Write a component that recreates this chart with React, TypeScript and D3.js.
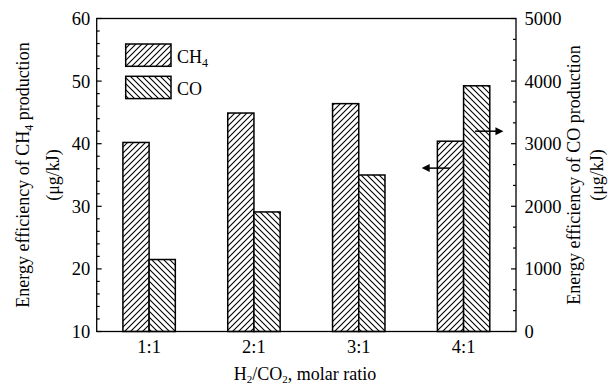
import React from "react";
import * as d3 from "d3";

const categories = ["1:1", "2:1", "3:1", "4:1"];
const ch4Values = [40.2, 44.9, 46.4, 40.4];
const coValues = [1150, 1910, 2500, 3925];
const leftTicks = [10, 20, 30, 40, 50, 60];
const rightTicks = [0, 1000, 2000, 3000, 4000, 5000];
const seriesNames = ["CH4", "CO"];

const W = 616;
const H = 387;
const FONT = "'Liberation Serif', 'Times New Roman', serif";

export default function App() {
  const left = 96.7, right = 516, top = 18.5, bottom = 331.5;
  const x = d3.scaleBand<string>().domain(categories).range([left, right]).padding(0);
  const yL = d3.scaleLinear().domain([10, 60]).range([bottom, top]);
  const yR = d3.scaleLinear().domain([0, 5000]).range([bottom, top]);
  const bw = x.bandwidth() / 4;

  const leftMinor = d3.range(10, 60.001, 2).filter((v) => !leftTicks.includes(v));
  const rightMinor = d3.range(0, 5000.001, 1000 / 3).filter((v) => Math.abs(v / 1000 - Math.round(v / 1000)) > 0.01);

  const last = categories[categories.length - 1];
  const bx = x(last)!;
  const bandW = x.bandwidth();
  const leftArrowY = yL(36.1);
  const rightArrowY = yR(3200);
  const la = { x1: bx + 0.37 * bandW, x2: bx + 0.1 * bandW };
  const ra = { x1: bx + 0.61 * bandW, x2: bx + 0.88 * bandW };

  const fs = 18.5;

  return (
    <svg width={W} height={H} style={{ position: "absolute", left: 0, top: 0, background: "#fff" }} fontFamily={FONT}>
      <defs>
        <pattern id="hCH4" patternUnits="userSpaceOnUse" width={6} height={6}>
          <rect width={6} height={6} fill="#fff" />
          <path d="M0,6 L6,0 M-1.5,1.5 L1.5,-1.5 M4.5,7.5 L7.5,4.5" stroke="#000" strokeWidth={1.1} />
        </pattern>
        <pattern id="hCO" patternUnits="userSpaceOnUse" width={6} height={6}>
          <rect width={6} height={6} fill="#fff" />
          <path d="M0,0 L6,6 M-1.5,4.5 L1.5,7.5 M4.5,-1.5 L7.5,1.5" stroke="#000" strokeWidth={1.1} />
        </pattern>
      </defs>

      {categories.map((c, i) => {
        const cx = x(c)! + x.bandwidth() / 2;
        return (
          <g key={c}>
            <rect x={cx - bw} y={yL(ch4Values[i])} width={bw} height={bottom - yL(ch4Values[i])} fill="url(#hCH4)" stroke="#000" strokeWidth={1.5} />
            <rect x={cx} y={yR(coValues[i])} width={bw} height={bottom - yR(coValues[i])} fill="url(#hCO)" stroke="#000" strokeWidth={1.5} />
          </g>
        );
      })}

      <rect x={left} y={top} width={right - left} height={bottom - top} fill="none" stroke="#000" strokeWidth={1.3} />

      {leftTicks.map((v) => (
        <g key={"l" + v}>
          <line x1={left} x2={left + 5} y1={yL(v)} y2={yL(v)} stroke="#000" strokeWidth={1.2} />
          <text x={left - 6.5} y={yL(v) + 6.5} textAnchor="end" fontSize={fs}>{v}</text>
        </g>
      ))}
      {leftMinor.map((v) => (
        <line key={"lm" + v} x1={left} x2={left + 3} y1={yL(v)} y2={yL(v)} stroke="#000" strokeWidth={1.2} />
      ))}

      {rightTicks.map((v) => (
        <g key={"r" + v}>
          <line x1={right} x2={right - 5} y1={yR(v)} y2={yR(v)} stroke="#000" strokeWidth={1.2} />
          <text x={right + 8.5} y={yR(v) + 6.5} textAnchor="start" fontSize={fs}>{v}</text>
        </g>
      ))}
      {rightMinor.map((v) => (
        <line key={"rm" + v} x1={right} x2={right - 3} y1={yR(v)} y2={yR(v)} stroke="#000" strokeWidth={1.2} />
      ))}

      {categories.map((c) => (
        <text key={"x" + c} x={x(c)! + x.bandwidth() / 2} y={353} textAnchor="middle" fontSize={fs}>{c}</text>
      ))}

      <text x={305} y={380} textAnchor="middle" fontSize={18}>
        H<tspan fontSize={11} dy={3}>2</tspan><tspan dy={-3}>/CO</tspan><tspan fontSize={11} dy={3}>2</tspan><tspan dy={-3}>, molar ratio</tspan>
      </text>

      <g transform={`translate(29, ${(top + bottom) / 2}) rotate(-90)`}>
        <text x={0} y={0} textAnchor="middle" fontSize={18}>
          Energy efficiency of CH<tspan fontSize={12} dy={4}>4</tspan><tspan dy={-4}> production</tspan>
        </text>
      </g>
      <g transform={`translate(59, ${(top + bottom) / 2}) rotate(-90)`}>
        <text x={0} y={0} textAnchor="middle" fontSize={18}>(μg/kJ)</text>
      </g>

      <g transform={`translate(580, ${(top + bottom) / 2}) rotate(-90)`}>
        <text x={0} y={0} textAnchor="middle" fontSize={18}>Energy efficiency of CO production</text>
      </g>
      <g transform={`translate(603, ${(top + bottom) / 2}) rotate(-90)`}>
        <text x={0} y={0} textAnchor="middle" fontSize={18}>(μg/kJ)</text>
      </g>

      {seriesNames.map((s, i) => (
        <g key={s}>
          <rect x={125.7} y={44 + i * 32.3} width={45.3} height={22.3} fill={i === 0 ? "url(#hCH4)" : "url(#hCO)"} stroke="#000" strokeWidth={1.5} />
          <text x={177} y={63 + i * 32} fontSize={18}>
            {s === "CH4" ? (<>CH<tspan fontSize={12} dy={4}>4</tspan></>) : s}
          </text>
        </g>
      ))}

      <line x1={la.x1} x2={la.x2 + 6} y1={leftArrowY} y2={leftArrowY} stroke="#000" strokeWidth={1.5} />
      <path d={`M${la.x2},${leftArrowY} l8,-4 l0,8 Z`} fill="#000" />
      <line x1={ra.x1} x2={ra.x2 - 6} y1={rightArrowY} y2={rightArrowY} stroke="#000" strokeWidth={1.5} />
      <path d={`M${ra.x2},${rightArrowY} l-8,-4 l0,8 Z`} fill="#000" />
    </svg>
  );
}
